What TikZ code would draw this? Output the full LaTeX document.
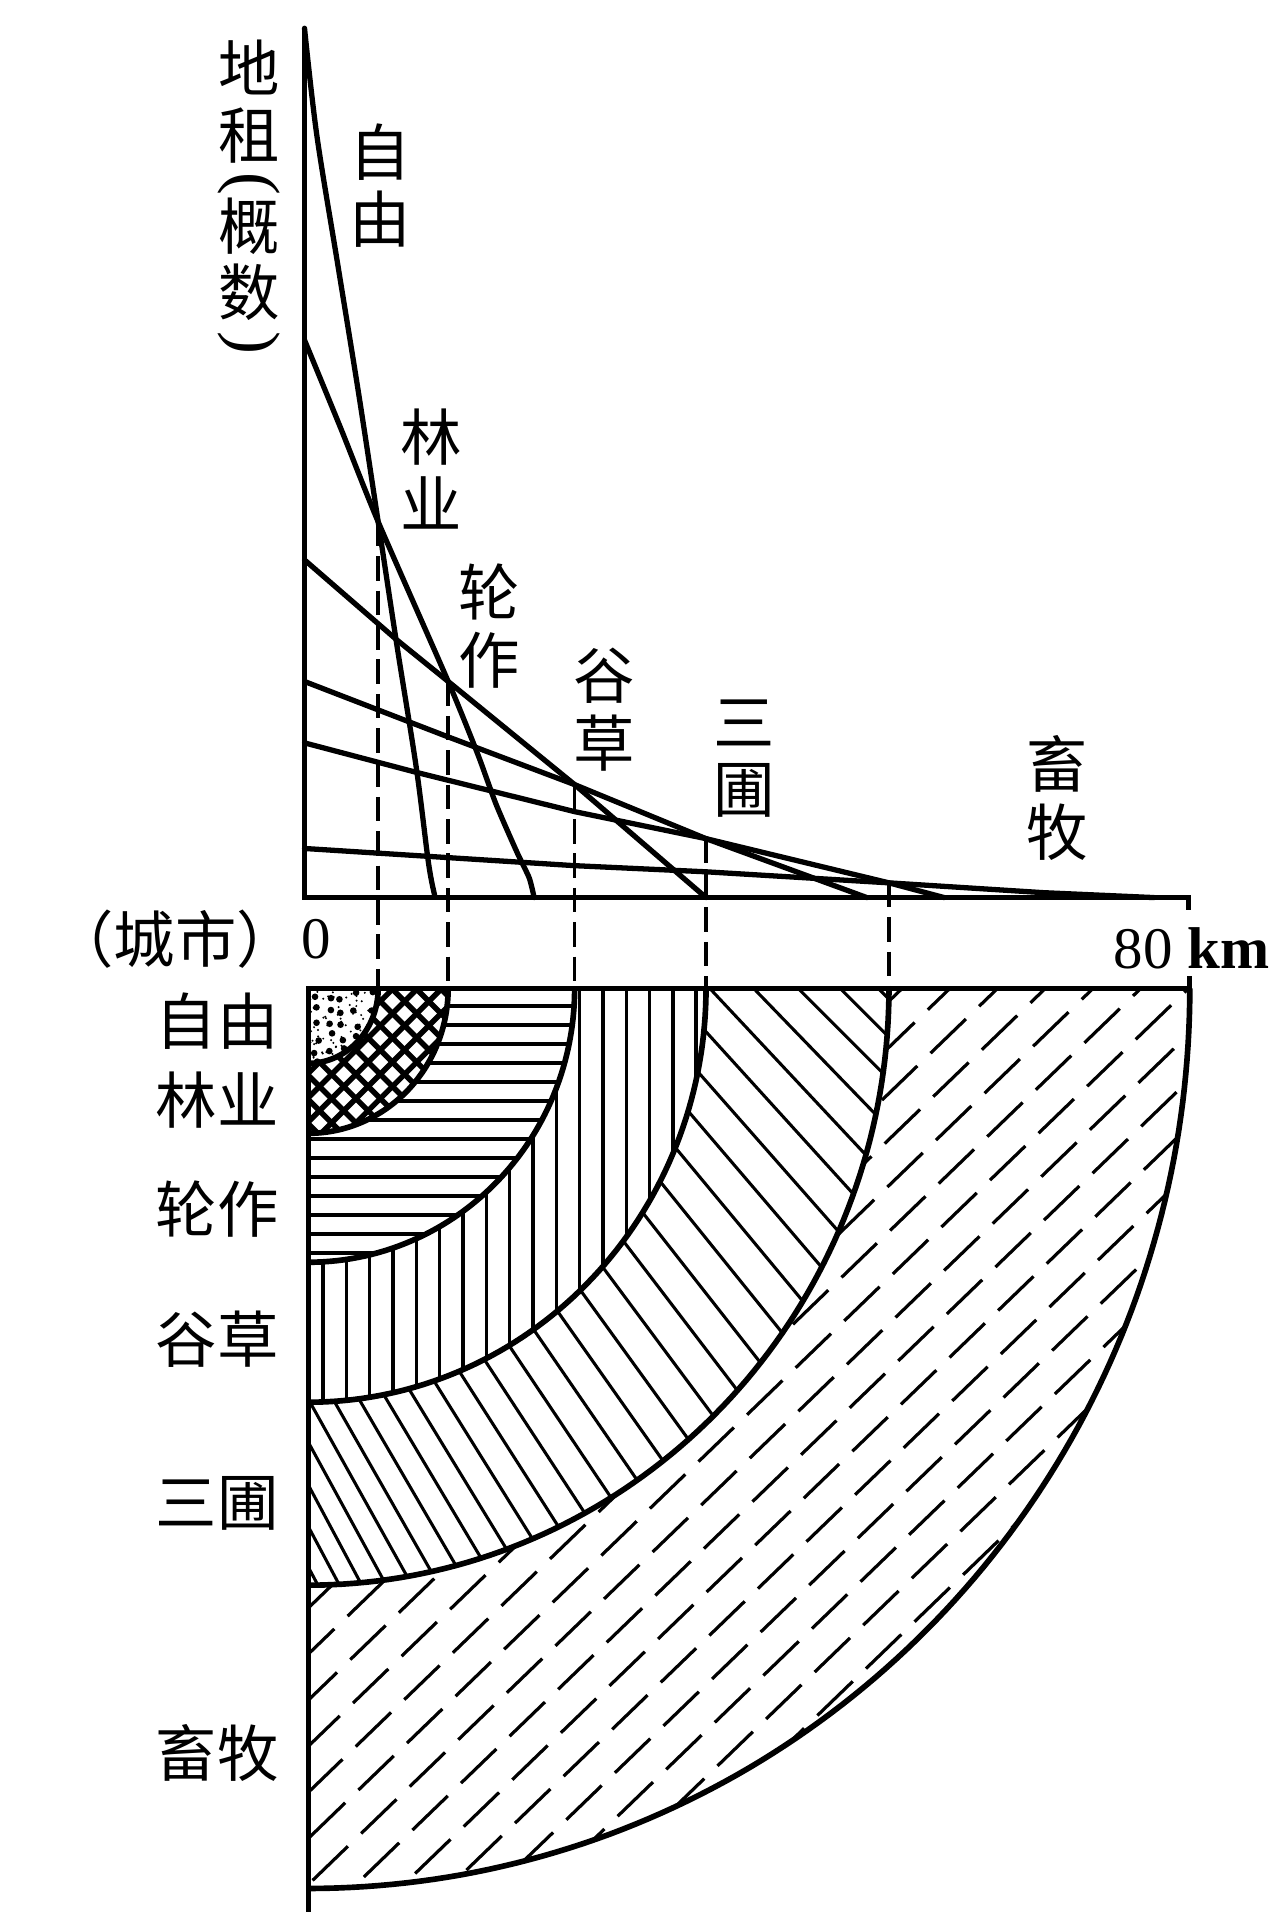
\documentclass[tikz,border=0pt]{standalone}
\usepackage{fontspec}
\setmainfont{Liberation Serif}
\newfontfamily\cjk{Noto Sans CJK SC}
\begin{document}
\begin{tikzpicture}[x=1pt,y=-1pt,
  axis/.style={line width=4.3pt,line join=miter},
  rent/.style={line width=4.3pt,line join=round,line cap=round},
  guide/.style={line width=3pt,dash pattern=on 20pt off 8pt},
  ringline/.style={line width=4.6pt},
  hatch/.style={line width=2.7pt},
  cjklab/.style={font=\cjk\fontsize{50}{55}\selectfont,inner sep=0pt,align=center},
  numlab/.style={font=\fontsize{48}{52}\selectfont,inner sep=0pt},
  parlab/.style={font=\fontsize{56}{60}\selectfont,inner sep=0pt},
  sector/.style 2 args={insert path={(251,805) -- plot[domain=0:90,samples=80] ({251+#1*cos(\x)},{805+#2*sin(\x)}) -- cycle}}]
\useasboundingbox (0,0) rectangle (1041,1571);

% ---------- upper graph ----------
\coordinate (ytop) at (248,23);
\coordinate (orig) at (248,731);
\coordinate (xend) at (968,731);
\coordinate (xtick) at (968,741);
\draw[axis] (ytop) -- (orig) -- (xend) -- (xtick);

\coordinate (i1) at (308,425);
\coordinate (i2) at (365,555);
\coordinate (i3) at (468,639);
\coordinate (i4) at (575,683);
\coordinate (i5) at (724,719);

% rent lines
\draw[rent] plot[smooth,tension=0.55] coordinates {(248,23) (258,110) (275,215) (292,320) (308,425) (323,524) (339,625) (349,703) (354,729)};
\draw[rent] plot[smooth,tension=0.4] coordinates {(248,277) (278,350) (308,425) (365,555) (389,614) (404,655) (421,694) (431,715) (435,731)};
\draw[rent] (248,456) -- (323,521) -- (i2) -- (i3) -- (575,731);
\draw[rent] (248,555) -- (362,599) -- (i3) -- (i4) -- (706,731);
\draw[rent] (248,605) -- (339,629) -- (468,661) -- (i4) -- (i5) -- (769,731);
\draw[rent] (248,691) -- (468,705) -- (575,710) -- (i5) -- (850,727) -- (940,731);

% dashed guides
\coordinate (b1) at (308,805);
\coordinate (b2) at (365,805);
\coordinate (b3) at (468,805);
\coordinate (b4) at (575,805);
\coordinate (b5) at (724,805);
\draw[guide] (i1) -- (b1);
\draw[guide] (i2) -- (b2);
\draw[guide] (i3) -- (b3);
\draw[guide] (i4) -- (b4);
\draw[guide] (i5) -- (b5);

% y-axis label
\node[cjklab] (ya) at (203,55) {地};
\node[cjklab] (yb) at (203,110) {租};
\node[parlab,rotate=-90] (yc) at (203,150) {(};
\node[cjklab] (yd) at (203,184) {概};
\node[cjklab] (ye) at (203,238) {数};
\node[parlab,rotate=-90] (yf) at (203,279) {)};

% curve labels
\node[cjklab] (tz) at (310,151) {自\\由};
\node[cjklab] (tl) at (351,382) {林\\业};
\node[cjklab] (tr) at (398,510) {轮\\作};
\node[cjklab] (tg) at (492,578) {谷\\草};
\node[cjklab] (ts) at (606,618) {三\\圃};
\node[cjklab] (tx) at (861,650) {畜\\牧};

\node[cjklab,anchor=east] (city) at (243,765) {（城市）};
\node[numlab,anchor=base west] (zero) at (245,781) {0};
\node[numlab,anchor=base west] (dist) at (907,789) {80 \textbf{km}};

% ---------- lower zone map ----------
% 畜牧: dashed slanted lines
\begin{scope}
\clip[sector={718}{733}];
\foreach \i in {0,...,40} {
  \pgfmathsetmacro\c{12+27*\i}
  \pgfmathsetmacro\ph{mod(\i*23,55)}
  \draw[hatch,line width=2.6pt,dash pattern=on 40pt off 15pt,dash phase=\ph pt]
    ({251+\c*sin(44)-560*cos(44)},{805+\c*cos(44)+560*sin(44)}) -- ({251+\c*sin(44)+560*cos(44)},{805+\c*cos(44)-560*sin(44)});
}
\end{scope}

% 三圃: fanning backslash lines
\fill[white,sector={473}{486}];
\begin{scope}
\clip[sector={473}{486}];
\foreach \t in {-25,-20,-15,-10,-5,0,5,9.87,14.61,19.22,23.71,28.08,32.33,36.47,40.50,44.42,48.24,51.95,55.56,59.08,62.50,65.83,69.07,72.23,75.30,78.29,81.20,84.03,86.79,89.48,92.09,94.7,97.3,99.9,102.5,105.1} {
  \pgfmathsetmacro\tc{max(0,min(\t,90))}
  \pgfmathsetmacro\al{45+17*\tc/90}
  \pgfmathsetmacro\px{251+399*cos(\t)}
  \pgfmathsetmacro\py{805+411*sin(\t)}
  \draw[hatch,line width=2.5pt] ({\px-140*cos(\al)},{\py-140*sin(\al)}) -- ({\px+140*cos(\al)},{\py+140*sin(\al)});
}
\end{scope}

% 谷草: vertical lines
\fill[white,sector={324}{337}];
\begin{scope}
\clip[sector={324}{337}];
\foreach \k in {0,...,17} {
  \draw[hatch,line width=2.8pt] ({263+19*\k},800) -- ({263+19*\k},1150);
}
\end{scope}

% 轮作: horizontal lines
\fill[white,sector={217}{223}];
\begin{scope}
\clip[sector={217}{223}];
\foreach \k in {0,...,14} {
  \draw[hatch,line width=3.3pt] (245,{819+15.5*\k}) -- (480,{819+15.5*\k});
}
\end{scope}

% 林业: cross hatching
\fill[white,sector={114}{118}];
\begin{scope}
\clip[sector={114}{118}];
\foreach \k in {0,...,13} {
  \pgfmathsetmacro\ca{1046+19.8*\k}
  \pgfmathsetmacro\cb{-684+19.8*\k}
  \draw[line width=4.4pt] ({\ca-795},795) -- ({\ca-935},935);
  \draw[line width=4.4pt] ({\cb+795},795) -- ({\cb+935},935);
}
\end{scope}

% 自由: stipple
\fill[white,sector={57}{61}];
\begin{scope}
\clip[sector={57}{61}];
\pgfmathsetseed{7}
\foreach \i in {0,...,5} {
  \foreach \j in {0,...,5} {
    \pgfmathsetmacro\dx{3.5*rand}
    \pgfmathsetmacro\dy{3.5*rand}
    \fill ({257+11*\i+\dx},{811+11*\j+\dy}) circle[radius=2.7pt];
  }
}
\foreach \i in {1,...,90} {
  \pgfmathsetmacro\sx{251+60*rnd}
  \pgfmathsetmacro\sy{805+62*rnd}
  \fill (\sx,\sy) circle[radius=0.9pt];
}
\end{scope}

% zone boundaries
\draw[ringline] plot[domain=0:90,samples=40] ({251+57*cos(\x)},{805+61*sin(\x)});
\draw[ringline] plot[domain=0:90,samples=50] ({251+114*cos(\x)},{805+118*sin(\x)});
\draw[ringline] plot[domain=0:90,samples=60] ({251+217*cos(\x)},{805+223*sin(\x)});
\draw[ringline] plot[domain=0:90,samples=70] ({251+324*cos(\x)},{805+337*sin(\x)});
\draw[ringline] plot[domain=0:90,samples=80] ({251+473*cos(\x)},{805+486*sin(\x)});
\draw[ringline] plot[domain=0:90,samples=100] ({251+718*cos(\x)},{805+733*sin(\x)});

\coordinate (ltop) at (251,805);
\coordinate (rtop) at (969,805);
\coordinate (rstub) at (969,795);
\coordinate (lbot) at (251,1557);
\draw[axis] (rstub) -- (rtop) -- (ltop) -- (lbot);

% zone labels at left
\node[cjklab,anchor=east] (lz) at (227,832) {自由};
\node[cjklab,anchor=east] (ll) at (227,896) {林业};
\node[cjklab,anchor=east] (lr) at (227,985) {轮作};
\node[cjklab,anchor=east] (lg) at (227,1091) {谷草};
\node[cjklab,anchor=east] (ls) at (227,1224) {三圃};
\node[cjklab,anchor=east] (lx) at (227,1428) {畜牧};
\end{tikzpicture}
\end{document}
